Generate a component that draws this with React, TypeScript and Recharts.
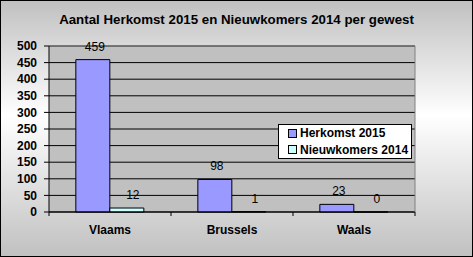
import { Bar, BarChart, CartesianGrid, LabelList, Legend, ReferenceLine, XAxis, YAxis } from "recharts";

const regions = ["Vlaams", "Brussels", "Waals"];
const herkomst2015 = [459, 98, 23];
const nieuwkomers2014 = [12, 1, 0];
const yTicks = [0, 50, 100, 150, 200, 250, 300, 350, 400, 450, 500];

const data = regions.map((r, i) => ({
  region: r,
  herkomst: herkomst2015[i],
  nieuwkomers: nieuwkomers2014[i],
}));

const FONT = '"Liberation Sans", Arial, sans-serif';
const W = 473;
const H = 257;
const PLOT_LEFT = 49;
const PLOT_RIGHT = 415;
const BAND = (PLOT_RIGHT - PLOT_LEFT) / regions.length;

const series = [
  { key: "herkomst", name: "Herkomst 2015", color: "#9999ff" },
  { key: "nieuwkomers", name: "Nieuwkomers 2014", color: "#ccffff" },
];

function CategoryTick(props: any) {
  const { x, y, payload, index } = props;
  return (
    <g>
      {index === 0 && <line x1={x - BAND / 2} x2={x - BAND / 2} y1={y} y2={y + 4} stroke="#000" />}
      <line x1={x + BAND / 2} x2={x + BAND / 2} y1={y} y2={y + 4} stroke="#000" />
      <text x={x} y={y + 22} textAnchor="middle" fontFamily={FONT} fontSize={12} fontWeight="bold" fill="#000">
        {payload.value}
      </text>
    </g>
  );
}

// value labels sit a little right of the bar centre, like the Excel original
const valueLabel = (dx: number) => (props: any) => {
  const { x, y, width, value } = props;
  return (
    <text x={x + width / 2 + dx} y={y - 9} textAnchor="middle" fontFamily={FONT} fontSize={12} fill="#000" stroke="none">
      {value}
    </text>
  );
};

function LegendBox() {
  return (
    <div
      style={{
        width: 134,
        height: 35,
        boxSizing: "border-box",
        border: "1px solid #000",
        background: "#fff",
        fontFamily: FONT,
        fontSize: 12,
        fontWeight: "bold",
        color: "#000",
      }}
    >
      {series.map((s) => (
        <div key={s.key} style={{ display: "flex", alignItems: "center", height: 16.5, lineHeight: "16px" }}>
          <span
            style={{
              display: "inline-block",
              width: 7,
              height: 7,
              marginLeft: 9,
              marginRight: 3,
              background: s.color,
              border: "1px solid #000",
            }}
          />
          <span>{s.name}</span>
        </div>
      ))}
    </div>
  );
}

export default function App() {
  return (
    <div
      style={{
        position: "absolute",
        left: 0,
        top: 0,
        width: W,
        height: H,
        boxSizing: "border-box",
        boxShadow: "inset 0 0 0 1px #000",
        background: "linear-gradient(to bottom, #c0c0c0 0%, #ffffff 45%, #c0c0c0 100%)",
      }}
    >
      <div
        style={{
          position: "absolute",
          left: 0,
          top: 13,
          width: W,
          textAlign: "center",
          fontFamily: FONT,
          fontSize: 13.3,
          fontWeight: "bold",
          lineHeight: "14px",
          color: "#000",
        }}
      >
        Aantal Herkomst 2015 en Nieuwkomers 2014 per gewest
      </div>
      <div style={{ position: "absolute", left: 0, top: 0 }}>
        <BarChart
          width={W}
          height={H}
          data={data}
          margin={{ top: 46, right: W - PLOT_RIGHT - 1, left: 0, bottom: 15 }}
          barCategoryGap="22%"
          barGap={0}
        >
          <CartesianGrid vertical={false} stroke="#000" fill="#c0c0c0" fillOpacity={1} />
          <XAxis
            dataKey="region"
            height={30}
            tickLine={false}
            tickSize={0}
            tickMargin={0}
            axisLine={{ stroke: "#000" }}
            tick={<CategoryTick />}
            interval={0}
          />
          <YAxis
            width={PLOT_LEFT}
            domain={[0, 500]}
            ticks={yTicks}
            interval={0}
            tickSize={5}
            tickMargin={7}
            axisLine={{ stroke: "#000" }}
            tickLine={{ stroke: "#000" }}
            tick={{ fill: "#000", fontSize: 12, fontWeight: "bold", fontFamily: FONT }}
          />
          <YAxis
            yAxisId="r"
            orientation="right"
            width={1}
            domain={[0, 500]}
            tick={false}
            tickLine={false}
            axisLine={{ stroke: "#808080" }}
          />
          <ReferenceLine y={500} stroke="#808080" />
          <Legend
            layout="vertical"
            align="center"
            verticalAlign="middle"
            wrapperStyle={{ left: 278, top: 124, width: 134, height: 35 }}
            content={<LegendBox />}
          />
          <Bar dataKey="herkomst" name="Herkomst 2015" fill="#9999ff" stroke="#000" strokeWidth={1} isAnimationActive={false}>
            <LabelList dataKey="herkomst" content={valueLabel(2)} />
          </Bar>
          <Bar
            dataKey="nieuwkomers"
            name="Nieuwkomers 2014"
            fill="#ccffff"
            stroke="#000"
            strokeWidth={1}
            minPointSize={0.01}
            isAnimationActive={false}
          >
            <LabelList dataKey="nieuwkomers" content={valueLabel(6)} />
          </Bar>
        </BarChart>
      </div>
    </div>
  );
}
